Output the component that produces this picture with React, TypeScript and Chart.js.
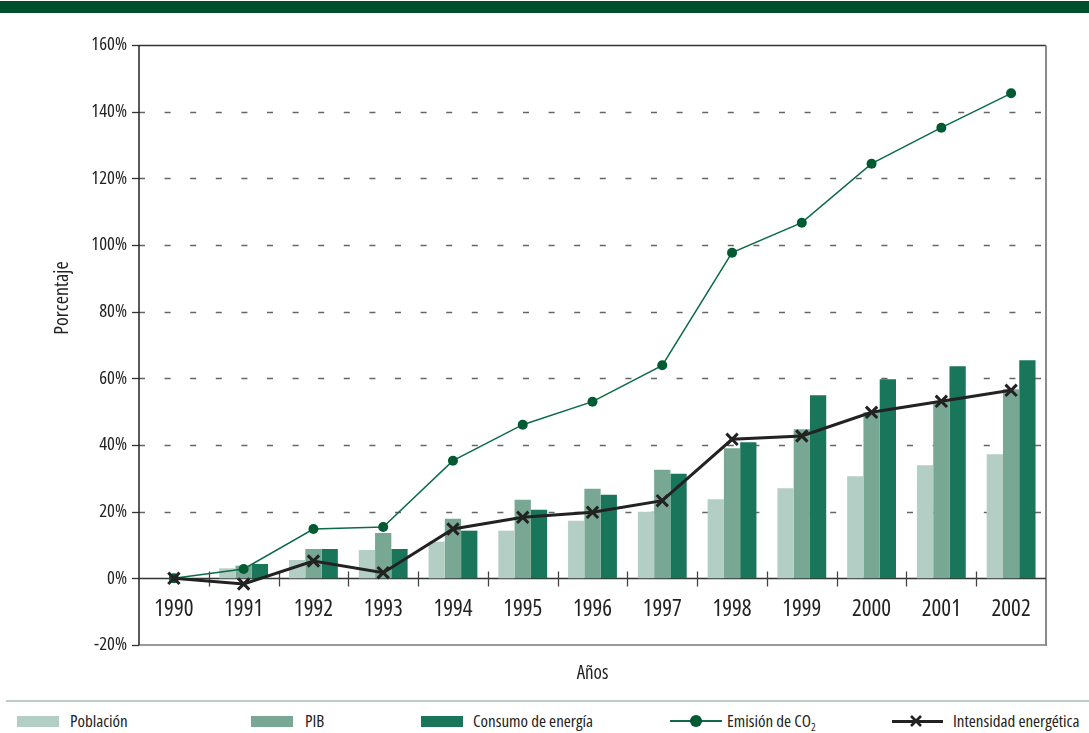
import React, { useEffect, useRef } from 'react';
import { Chart, registerables } from 'chart.js';
Chart.register(...registerables);

const years = ['1990', '1991', '1992', '1993', '1994', '1995', '1996', '1997', '1998', '1999', '2000', '2001', '2002'];
const poblacion = [0, 3.0, 5.5, 8.5, 11.0, 14.3, 17.3, 20.0, 23.7, 27.0, 30.6, 33.9, 37.2];
const pib = [0, 3.8, 8.8, 13.6, 17.9, 23.6, 26.9, 32.6, 39.0, 44.7, 49.8, 53.2, 56.7];
const consumo = [0, 4.3, 8.8, 8.8, 14.3, 20.6, 25.1, 31.4, 40.8, 54.9, 59.7, 63.6, 65.4];
const co2 = [0, 2.8, 14.8, 15.4, 35.3, 46.1, 53.0, 63.9, 97.7, 106.7, 124.4, 135.2, 145.5];
const intensidad = [0, -1.7, 5.2, 1.7, 14.8, 18.3, 19.8, 23.3, 41.7, 42.7, 49.8, 53.1, 56.4];
const yTicks = [-20, 0, 20, 40, 60, 80, 100, 120, 140, 160];

const FONT = '"Open Sans", "Noto Sans", sans-serif';

const C_POB = '#b3cec4';
const C_PIB = '#78a894';
const C_CONS = '#1a765a';
const C_CO2_LINE = '#0d6b47';
const C_CO2_PT = '#005a32';
const C_INT = '#222222';

const framePlugin = {
  id: 'frame',
  beforeDatasetsDraw(chart: any) {
    const { ctx, chartArea: a, scales } = chart;
    const y = scales.y;
    const x = scales.x;
    ctx.save();
    ctx.strokeStyle = '#666';
    ctx.lineWidth = 1.3;
    ctx.setLineDash([6, 19.6]);
    for (const v of yTicks) {
      if (v === -20 || v === 0 || v === 160) continue;
      const py = Math.round(y.getPixelForValue(v)) + 0.5;
      ctx.beginPath();
      ctx.moveTo(a.left, py);
      ctx.lineTo(a.right, py);
      ctx.stroke();
    }
    ctx.setLineDash([]);
    ctx.strokeStyle = '#333';
    ctx.lineWidth = 1.3;
    for (const v of yTicks) {
      const py = Math.round(y.getPixelForValue(v)) + 0.5;
      ctx.beginPath();
      ctx.moveTo(a.left - 7, py);
      ctx.lineTo(a.left, py);
      ctx.stroke();
    }
    const top = Math.round(y.getPixelForValue(160)) + 0.5;
    ctx.strokeStyle = '#333';
    ctx.lineWidth = 1.5;
    ctx.beginPath();
    ctx.moveTo(a.left, top);
    ctx.lineTo(a.right, top);
    ctx.stroke();
    const bot = y.getPixelForValue(-20);
    ctx.strokeStyle = '#999';
    ctx.lineWidth = 2;
    ctx.beginPath();
    ctx.moveTo(a.left, bot);
    ctx.lineTo(a.right, bot);
    ctx.stroke();
    ctx.strokeStyle = '#8a8a8a';
    ctx.lineWidth = 2;
    ctx.beginPath();
    ctx.moveTo(a.right, top);
    ctx.lineTo(a.right, bot + 1);
    ctx.stroke();
    ctx.strokeStyle = '#222';
    ctx.lineWidth = 1.5;
    ctx.beginPath();
    ctx.moveTo(a.left, top);
    ctx.lineTo(a.left, bot);
    ctx.stroke();
    const zero = Math.round(y.getPixelForValue(0)) + 0.5;
    ctx.strokeStyle = '#333';
    ctx.lineWidth = 1.5;
    ctx.beginPath();
    ctx.moveTo(a.left, zero);
    ctx.lineTo(a.right, zero);
    ctx.stroke();
    ctx.strokeStyle = '#444';
    ctx.lineWidth = 1.3;
    for (let i = 0; i < years.length - 1; i++) {
      const bx = Math.round((x.getPixelForValue(i) + x.getPixelForValue(i + 1)) / 2) + 0.5;
      ctx.beginPath();
      ctx.moveTo(bx, zero - 7);
      ctx.lineTo(bx, zero + 8);
      ctx.stroke();
    }
    ctx.restore();
  },
  afterDraw(chart: any) {
    const { ctx, chartArea: a } = chart;
    ctx.save();
    ctx.fillStyle = '#222';
    ctx.textAlign = 'center';
    ctx.textBaseline = 'middle';
    ctx.font = 'condensed 19px ' + FONT;
    ctx.fillText('Años', (a.left + a.right) / 2, 674);
    ctx.font = 'condensed 20px ' + FONT;
    ctx.translate(62, 298);
    ctx.rotate(-Math.PI / 2);
    ctx.fillText('Porcentaje', 0, 0);
    ctx.restore();
  },
};

export default function App() {
  const ref = useRef<HTMLCanvasElement>(null);
  useEffect(() => {
    const chart = new Chart(ref.current as HTMLCanvasElement, {
      type: 'bar',
      data: {
        labels: years,
        datasets: [
          {
            type: 'line',
            label: 'Intensidad energética',
            data: intensidad,
            borderColor: C_INT,
            borderWidth: 3,
            pointStyle: 'crossRot',
            pointRadius: 8,
            pointBorderWidth: 3,
            pointBorderColor: C_INT,
            pointBackgroundColor: C_INT,
            tension: 0,
            order: 0,
          } as any,
          {
            type: 'line',
            label: 'Emisión de CO2',
            data: co2,
            borderColor: C_CO2_LINE,
            borderWidth: 1.5,
            pointStyle: 'circle',
            pointRadius: 5,
            pointBorderWidth: 0,
            pointBackgroundColor: C_CO2_PT,
            pointBorderColor: C_CO2_PT,
            tension: 0,
            order: 1,
          } as any,
          {
            label: 'Población',
            data: poblacion,
            backgroundColor: C_POB,
            borderWidth: 0,
            categoryPercentage: 0.7,
            barPercentage: 1.0,
            order: 2,
          },
          {
            label: 'PIB',
            data: pib,
            backgroundColor: C_PIB,
            borderWidth: 0,
            categoryPercentage: 0.7,
            barPercentage: 1.0,
            order: 2,
          },
          {
            label: 'Consumo de energía',
            data: consumo,
            backgroundColor: C_CONS,
            borderWidth: 0,
            categoryPercentage: 0.7,
            barPercentage: 1.0,
            order: 2,
          },
        ],
      },
      options: {
        responsive: false,
        maintainAspectRatio: false,
        animation: false,
        devicePixelRatio: 1,
        layout: { padding: { top: 45, right: 43, bottom: 55, left: 0 } },
        plugins: { legend: { display: false }, tooltip: { enabled: false } },
        scales: {
          x: {
            type: 'category',
            position: { y: 0 } as any,
            offset: true,
            grid: { display: false, drawTicks: false },
            border: { display: false },
            ticks: {
              font: { family: FONT, size: 23, weight: 'condensed' as any },
              color: '#222',
              padding: 17,
              maxRotation: 0,
              autoSkip: false,
            },
          },
          y: {
            type: 'linear',
            position: 'left',
            min: -20,
            max: 160,
            grid: { display: false, drawTicks: false },
            border: { display: false },
            ticks: {
              stepSize: 20,
              callback: (v: any) => v + '%',
              font: { family: FONT, size: 18.5, weight: 'condensed' as any },
              color: '#222',
              padding: 12,
            },
            afterFit: (s: any) => {
              s.width = 139;
            },
          },
        },
      },
      plugins: [framePlugin],
    } as any);
    return () => chart.destroy();
  }, []);

  const textStyle: React.CSSProperties = {
    position: 'absolute',
    top: 711,
    fontSize: 17,
    lineHeight: '20px',
    color: '#222',
    whiteSpace: 'nowrap',
  };
  const swatch = (left: number, color: string): React.CSSProperties => ({
    position: 'absolute',
    left,
    top: 716,
    width: 42,
    height: 11,
    background: color,
  });

  return (
    <div
      style={{
        position: 'absolute',
        left: 0,
        top: 0,
        width: 1089,
        height: 733,
        background: '#fff',
        overflow: 'hidden',
        fontFamily: FONT,
        fontStretch: 'condensed',
      }}
    >
      <canvas ref={ref} width={1089} height={700} style={{ position: 'absolute', left: 0, top: 0, width: 1089, height: 700 }} />
      <div style={{ position: 'absolute', left: 0, top: 1, width: 1089, height: 12, background: '#00502f' }} />
      <div style={{ position: 'absolute', left: 6, top: 700, width: 1083, height: 2, background: '#b7cfc5' }} />
      <div style={swatch(17, C_POB)} />
      <div style={{ ...textStyle, left: 70 }}>Población</div>
      <div style={swatch(251, C_PIB)} />
      <div style={{ ...textStyle, left: 305 }}>PIB</div>
      <div style={swatch(421, C_CONS)} />
      <div style={{ ...textStyle, left: 473 }}>Consumo de energía</div>
      <div style={{ position: 'absolute', left: 670, top: 720, width: 52, height: 2, background: C_CO2_LINE }} />
      <div style={{ position: 'absolute', left: 690, top: 715, width: 12, height: 12, borderRadius: 6, background: C_CO2_PT }} />
      <div style={{ ...textStyle, left: 727 }}>
        Emisión de CO<sub style={{ fontSize: 11, verticalAlign: '-4px', lineHeight: 0 }}>2</sub>
      </div>
      <div style={{ position: 'absolute', left: 892, top: 720, width: 51, height: 2.5, background: C_INT }} />
      <svg style={{ position: 'absolute', left: 909, top: 714 }} width={14} height={14}>
        <line x1={2} y1={2} x2={12} y2={12} stroke={C_INT} strokeWidth={2.6} />
        <line x1={12} y1={2} x2={2} y2={12} stroke={C_INT} strokeWidth={2.6} />
      </svg>
      <div style={{ ...textStyle, left: 953 }}>Intensidad energética</div>
    </div>
  );
}
